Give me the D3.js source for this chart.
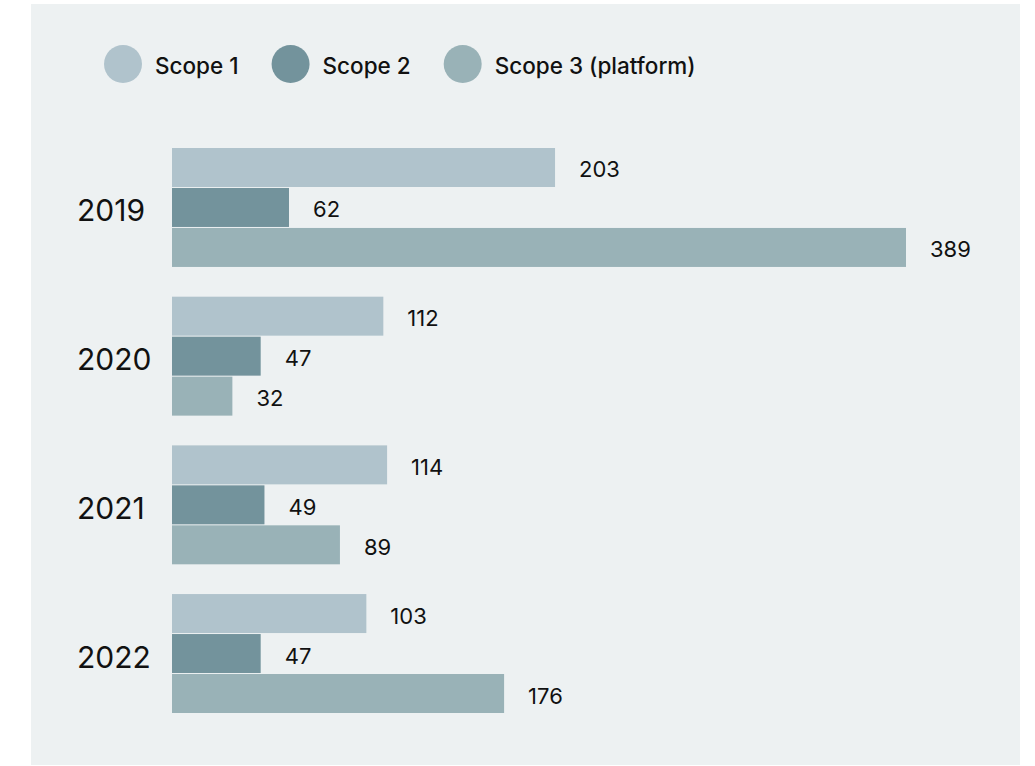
<!DOCTYPE html>
<html>
<head>
<meta charset="utf-8">
<script src="https://cdn.jsdelivr.net/npm/d3@7"></script>
<style>
  html, body { margin: 0; padding: 0; background: #ffffff; }
  svg { display: block; font-family: "Inter", "Roboto", sans-serif; }
</style>
</head>
<body>
<svg id="chart" width="1035" height="766"></svg>
<script>
// Emissions by year, split by scope
const years = ["2019", "2020", "2021", "2022"];
const seriesNames = ["Scope 1", "Scope 2", "Scope 3 (platform)"];
const scope1 = [203, 112, 114, 103];
const scope2 = [62, 47, 49, 47];
const scope3 = [389, 32, 89, 176];
const seriesColors = ["#b0c3cc", "#73939c", "#99b2b7"];

const seriesValues = [scope1, scope2, scope3];
const rows = years.map((y, i) => ({
  year: y,
  values: seriesNames.map((s, k) => ({ key: s, value: seriesValues[k][i] }))
}));

const svg = d3.select("#chart");

// panel background
svg.append("rect")
  .attr("x", 31).attr("y", 4)
  .attr("width", 989).attr("height", 761)
  .attr("fill", "#edf1f2");

const color = d3.scaleOrdinal().domain(seriesNames).range(seriesColors);

const x = d3.scaleLinear().domain([0, 389]).range([172, 906]);

const y0 = d3.scaleBand().domain(years).range([148, 713]).paddingInner(0.2).paddingOuter(0);
const y1 = d3.scaleBand().domain(seriesNames).range([0, y0.bandwidth()]).paddingInner(0.025);

const groups = svg.append("g").selectAll("g")
  .data(rows).join("g")
  .attr("transform", d => `translate(0,${y0(d.year)})`);

groups.selectAll("rect")
  .data(d => d.values).join("rect")
  .attr("x", x(0))
  .attr("y", d => y1(d.key))
  .attr("width", d => x(d.value) - x(0))
  .attr("height", y1.bandwidth())
  .attr("fill", d => color(d.key));

groups.selectAll("text.val")
  .data(d => d.values).join("text")
  .attr("class", "val")
  .attr("x", d => x(d.value) + 24)
  .attr("y", d => y1(d.key) + y1.bandwidth() / 2 + 2)
  .attr("dominant-baseline", "central")
  .attr("font-size", 22)
  .attr("fill", "#111111")
  .text(d => d.value);

// year labels
groups.append("text")
  .attr("x", 77)
  .attr("y", y0.bandwidth() / 2 + 3)
  .attr("dominant-baseline", "central")
  .attr("font-size", 30)
  .attr("fill", "#111111")
  .text(d => d.year);

// legend
const legend = svg.append("g");
let cx = 123;
seriesNames.forEach((name) => {
  legend.append("circle")
    .attr("cx", cx).attr("cy", 64).attr("r", 19)
    .attr("fill", color(name));
  const t = legend.append("text")
    .attr("x", cx + 32).attr("y", 65)
    .attr("dominant-baseline", "central")
    .attr("font-size", 22.5)
    .attr("font-weight", 500)
    .attr("fill", "#111111")
    .text(name);
  const w = t.node().getComputedTextLength();
  cx = cx + 32 + w + 33 + 19;
});
</script>
</body>
</html>
